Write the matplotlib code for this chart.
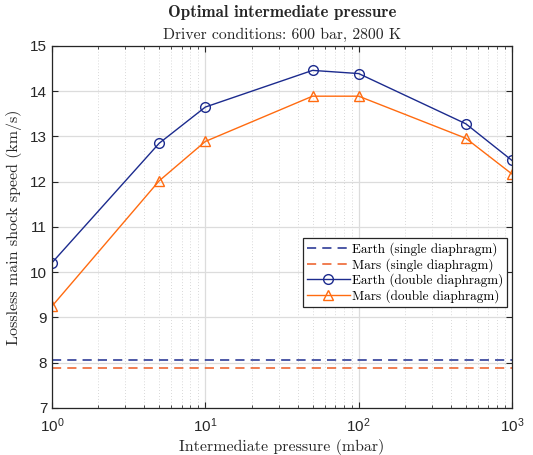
import matplotlib
matplotlib.use('Agg')
import matplotlib.pyplot as plt
import numpy as np

# data
pressure = [1, 5, 10, 50, 100, 500, 1000]
earth_double = [10.21, 12.85, 13.65, 14.46, 14.39, 13.28, 12.47]
mars_double = [9.25, 12.02, 12.89, 13.89, 13.89, 12.96, 12.17]
earth_single = 8.05
mars_single = 7.89

plt.rcParams['font.family'] = ['Liberation Sans', 'DejaVu Sans']
plt.rcParams['mathtext.fontset'] = 'custom'
plt.rcParams['mathtext.rm'] = 'Liberation Sans'
plt.rcParams['mathtext.it'] = 'Liberation Sans:italic'
plt.rcParams['axes.unicode_minus'] = False

c_earth = '#1c2b8e'
c_mars = '#ff6b10'
c_mars_s = '#ec5a22'

fig = plt.figure(figsize=(5.33, 4.55), dpi=100)
ax = fig.add_axes([0.0976, 0.1033, 0.863, 0.7957])

ax.plot([1, 1000], [earth_single, earth_single], '--', color=c_earth, lw=1.1,
        dashes=(6, 4), label='Earth (single diaphragm)')
ax.plot([1, 1000], [mars_single, mars_single], '--', color=c_mars_s, lw=1.1,
        dashes=(6, 4), label='Mars (single diaphragm)')
ax.plot(pressure, earth_double, '-o', color=c_earth, lw=1.0, ms=7,
        mfc='none', mew=1.0, label='Earth (double diaphragm)')
ax.plot(pressure, mars_double, '-^', color=c_mars, lw=1.0, ms=7.5,
        mfc='none', mew=1.0, label='Mars (double diaphragm)')

ax.set_xscale('log')
ax.set_xlim(1, 1000)
ax.set_ylim(7, 15)
ax.set_yticks(np.arange(7, 16, 1))

ax.grid(True, which='major', color='#dcdcdc', lw=0.9, ls='-')
ax.grid(True, which='minor', color='#cccccc', lw=0.6, ls=(0, (1, 2.5)))
ax.set_axisbelow(True)

ax.tick_params(which='both', direction='in', top=True, right=True,
               colors='#262626', labelsize=11, labelcolor='#262626')
ax.tick_params(which='major', length=4)
ax.tick_params(which='minor', length=2)
ax.tick_params(axis='x', pad=6)
for s in ax.spines.values():
    s.set_color('#262626')
    s.set_linewidth(0.9)

ax.set_xlabel('Intermediate pressure (mbar)', fontfamily='cmr10', fontsize=11.5,
              color='#262626', labelpad=3)
ax.set_ylabel('Lossless main shock speed (km/s)', fontfamily='cmr10', fontsize=11.5,
              color='#262626', labelpad=6)
ax.set_title('Driver conditions: 600 bar, 2800 K', fontfamily='cmr10',
             fontsize=11.3, color='#262626', pad=5)
ax.text(0.5, 1.072, 'Optimal intermediate pressure', transform=ax.transAxes,
        ha='center', va='bottom', fontfamily='cmb10', fontsize=12.2, color='#262626')

leg = ax.legend(loc='lower right', bbox_to_anchor=(0.99, 0.279), fancybox=False,
                framealpha=1, edgecolor='#262626', borderpad=0.3, labelspacing=0.15,
                handlelength=3.3, handletextpad=0.15, borderaxespad=0,
                prop={'family': 'cmr10', 'size': 9.5})
leg.get_frame().set_linewidth(0.9)

fig.savefig('out.png', dpi=100)
